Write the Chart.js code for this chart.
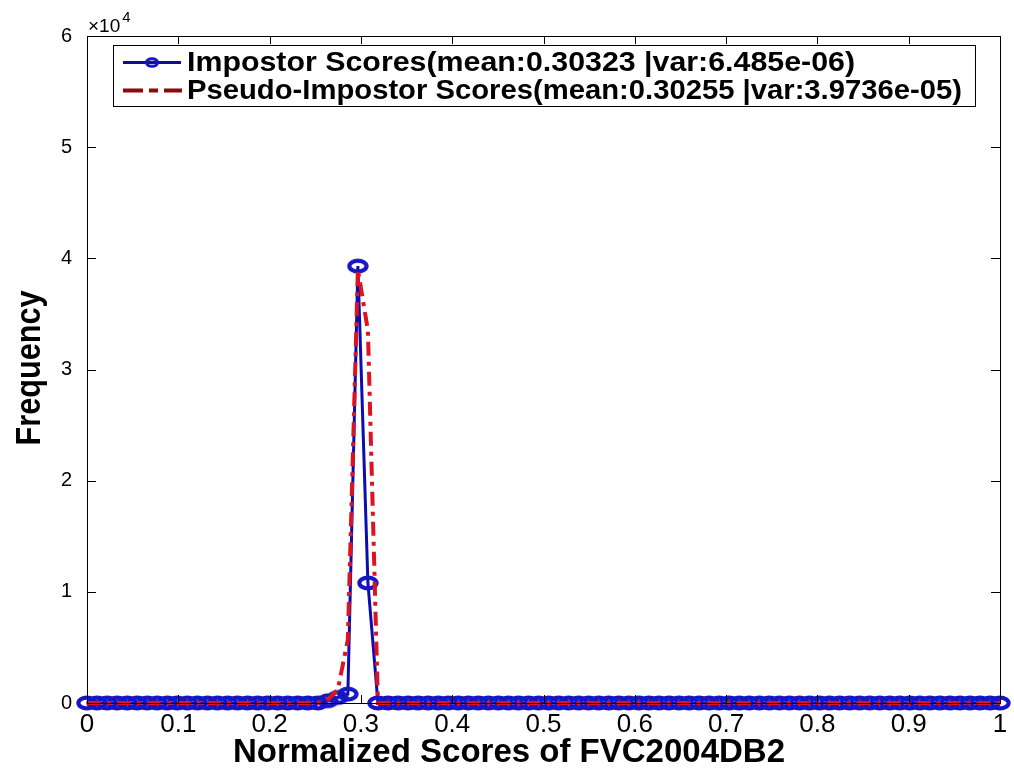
<!DOCTYPE html>
<html>
<head>
<meta charset="utf-8">
<script src="https://cdn.jsdelivr.net/npm/chart.js@4.4.1/dist/chart.umd.min.js"></script>
<style>
html,body{margin:0;padding:0;background:#fff;}
#c{display:block;}
</style>
</head>
<body>
<canvas id="c" width="1014" height="771"></canvas>
<script>
// ---- data ----
const scoreBins = [
0.00000,0.01099,0.02198,0.03297,0.04396,0.05495,0.06593,0.07692,0.08791,0.09890,
0.10989,0.12088,0.13187,0.14286,0.15385,0.16484,0.17582,0.18681,0.19780,0.20879,
0.21978,0.23077,0.24176,0.25275,0.26374,0.27473,0.28571,0.29670,0.30769,0.31868,
0.32967,0.34066,0.35165,0.36264,0.37363,0.38462,0.39560,0.40659,0.41758,0.42857,
0.43956,0.45055,0.46154,0.47253,0.48352,0.49451,0.50549,0.51648,0.52747,0.53846,
0.54945,0.56044,0.57143,0.58242,0.59341,0.60440,0.61538,0.62637,0.63736,0.64835,
0.65934,0.67033,0.68132,0.69231,0.70330,0.71429,0.72527,0.73626,0.74725,0.75824,
0.76923,0.78022,0.79121,0.80220,0.81319,0.82418,0.83516,0.84615,0.85714,0.86813,
0.87912,0.89011,0.90110,0.91209,0.92308,0.93407,0.94505,0.95604,0.96703,0.97802,
0.98901,1.00000];
const impostorFreq = [
0,0,0,0,0,0,0,0,0,0,
0,0,0,0,0,0,0,0,0,0,
0,0,0,0,200,500,800,39300,10800,0,
0,0,0,0,0,0,0,0,0,0,
0,0,0,0,0,0,0,0,0,0,
0,0,0,0,0,0,0,0,0,0,
0,0,0,0,0,0,0,0,0,0,
0,0,0,0,0,0,0,0,0,0,
0,0,0,0,0,0,0,0,0,0,
0,0];
const pseudoFreq = [
0,0,0,0,0,0,0,0,0,0,
0,0,0,0,0,0,0,0,0,0,
0,0,0,0,300,1200,5700,39000,33500,0,
0,0,0,0,0,0,0,0,0,0,
0,0,0,0,0,0,0,0,0,0,
0,0,0,0,0,0,0,0,0,0,
0,0,0,0,0,0,0,0,0,0,
0,0,0,0,0,0,0,0,0,0,
0,0,0,0,0,0,0,0,0,0,
0,0];
const seriesNames = [
  'Impostor Scores(mean:0.30323 |var:6.485e-06)',
  'Pseudo-Impostor Scores(mean:0.30255 |var:3.9736e-05)'
];
const xTitle = 'Normalized Scores of FVC2004DB2';
const yTitle = 'Frequency';
const yExponent = 4;

const FAM = '"Liberation Sans", Arial, sans-serif';
const BLUE_LINE = '#0c0cb0';
const BLUE_MK = '#1616c4';
const RED_LINE = '#dc1420';

// ellipse marker
const mk = document.createElement('canvas');
mk.width = 26; mk.height = 20;
(function(){
  const g = mk.getContext('2d');
  g.strokeStyle = BLUE_MK; g.lineWidth = 4.2;
  g.beginPath(); g.ellipse(13,10,8.6,5.4,0,0,Math.PI*2); g.stroke();
})();

// draw text condensed horizontally to a given width (keeps real text)
function fitText(ctx, text, x, y, sizePx, targetW, align) {
  ctx.font = 'bold ' + sizePx + 'px ' + FAM;
  const w = ctx.measureText(text).width;
  const sx = targetW / w;
  ctx.save();
  ctx.translate(x, y);
  ctx.scale(sx, 1);
  ctx.textAlign = align;
  ctx.fillText(text, 0, 0);
  ctx.restore();
}

const decor = {
  id: 'decor',
  afterDraw(chart) {
    const ctx = chart.ctx;
    const a = chart.chartArea;
    const xs = chart.scales.x, ys = chart.scales.y;
    ctx.save();
    // frame
    ctx.strokeStyle = '#000'; ctx.lineWidth = 1;
    ctx.strokeRect(Math.round(a.left)+0.5, Math.round(a.top)+0.5, Math.round(a.right-a.left), Math.round(a.bottom-a.top));
    // inward ticks
    ctx.beginPath();
    xs.ticks.forEach(t => {
      const px = Math.round(xs.getPixelForValue(t.value)) + 0.5;
      ctx.moveTo(px, a.top); ctx.lineTo(px, a.top + 8);
      ctx.moveTo(px, a.bottom); ctx.lineTo(px, a.bottom - 8);
    });
    ys.ticks.forEach(t => {
      const py = Math.round(ys.getPixelForValue(t.value)) + 0.5;
      ctx.moveTo(a.left, py); ctx.lineTo(a.left + 9, py);
      ctx.moveTo(a.right, py); ctx.lineTo(a.right - 9, py);
    });
    ctx.stroke();

    // exponent label
    ctx.fillStyle = '#000';
    ctx.textBaseline = 'alphabetic'; ctx.textAlign = 'left';
    ctx.font = '19px ' + FAM;
    ctx.fillText('\u00d710', a.left + 1, a.top - 4);
    const w10 = ctx.measureText('\u00d710').width;
    ctx.font = '15px ' + FAM;
    ctx.fillText(String(yExponent), a.left + 3 + w10, a.top - 14);

    // axis titles
    ctx.textBaseline = 'middle';
    fitText(ctx, xTitle, 509, 753, 34, 552, 'center');
    ctx.save();
    ctx.translate(30, 368); ctx.rotate(-Math.PI/2);
    fitText(ctx, yTitle, 0, 0, 35, 155, 'center');
    ctx.restore();

    // legend box
    const bx = 113, by = 45, bw = 862, bh = 61;
    ctx.fillStyle = '#fff';
    ctx.fillRect(bx, by, bw, bh);
    ctx.strokeStyle = '#000'; ctx.lineWidth = 1;
    ctx.strokeRect(bx + 0.5, by + 0.5, bw, bh);
    // row 1 sample
    ctx.strokeStyle = '#10108a'; ctx.lineWidth = 3;
    ctx.beginPath(); ctx.moveTo(123, 62.5); ctx.lineTo(181, 62.5); ctx.stroke();
    ctx.strokeStyle = BLUE_MK; ctx.lineWidth = 3;
    ctx.beginPath(); ctx.ellipse(152, 62.5, 5.5, 3.8, 0, 0, Math.PI*2); ctx.stroke();
    // row 2 sample
    ctx.strokeStyle = '#8b0a0a'; ctx.lineWidth = 4;
    ctx.beginPath();
    ctx.moveTo(123, 90.5); ctx.lineTo(143, 90.5);
    ctx.moveTo(149, 90.5); ctx.lineTo(158, 90.5);
    ctx.moveTo(164, 90.5); ctx.lineTo(182, 90.5);
    ctx.stroke();
    ctx.fillStyle = '#000'; ctx.textBaseline = 'middle';
    fitText(ctx, seriesNames[0], 187, 63, 28, 668, 'left');
    fitText(ctx, seriesNames[1], 187, 91, 28, 775, 'left');
    ctx.restore();
  }
};

const impostorPts = scoreBins.map((x, i) => ({x: x, y: impostorFreq[i]}));
const pseudoPts = scoreBins.map((x, i) => ({x: x, y: pseudoFreq[i]}));

new Chart(document.getElementById('c'), {
  type: 'line',
  data: {
    datasets: [
      {
        label: seriesNames[0],
        data: impostorPts,
        borderColor: BLUE_LINE,
        borderWidth: 3,
        pointStyle: mk,
        pointRadius: 8,
        pointBorderColor: BLUE_MK,
        pointBackgroundColor: 'rgba(0,0,0,0)',
        tension: 0,
        clip: false,
        order: 2
      },
      {
        label: seriesNames[1],
        data: pseudoPts,
        borderColor: RED_LINE,
        borderWidth: 4,
        borderDash: [14, 6, 4, 6],
        pointRadius: 0,
        tension: 0,
        clip: false,
        order: 1
      }
    ]
  },
  options: {
    responsive: false,
    animation: false,
    devicePixelRatio: 1,
    layout: { padding: { left: 0, top: 36, right: 14, bottom: 0 } },
    plugins: { legend: { display: false }, tooltip: { enabled: false } },
    scales: {
      x: {
        type: 'linear', min: 0, max: 1,
        grid: { display: false, drawTicks: false },
        border: { display: false },
        afterFit(s) { s.height = 68; },
        ticks: {
          stepSize: 0.1, padding: 6, color: '#000',
          maxRotation: 0, autoSkip: false,
          font: { family: FAM, size: 26 },
          callback: v => String(Math.round(v * 10) / 10)
        }
      },
      y: {
        type: 'linear', min: 0, max: 60000,
        grid: { display: false, drawTicks: false },
        border: { display: false },
        afterFit(s) { s.width = 87; },
        ticks: {
          stepSize: 10000, padding: 15, color: '#000',
          font: { family: FAM, size: 20 },
          callback: v => String(Math.round(v / Math.pow(10, yExponent)))
        }
      }
    }
  },
  plugins: [decor]
});
</script>
</body>
</html>
